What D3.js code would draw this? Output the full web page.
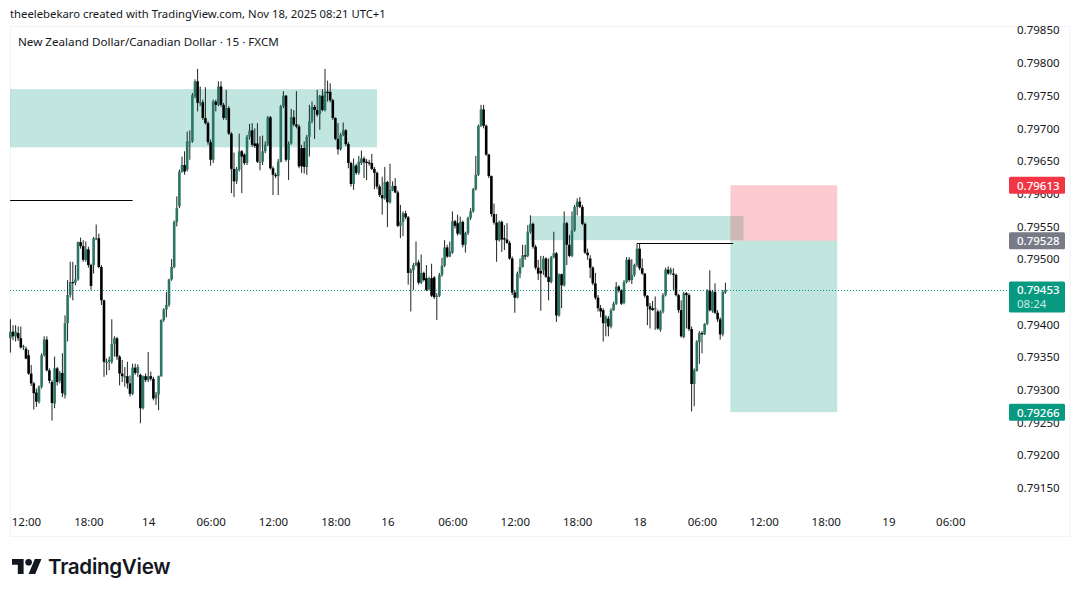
<!DOCTYPE html>
<html>
<head>
<meta charset="utf-8">
<script src="https://cdn.jsdelivr.net/npm/d3@7"></script>
<style>
html, body { margin: 0; padding: 0; background: #fff; }
svg { display: block; }
text { font-family: "Noto Sans", sans-serif; fill: #131722; }
</style>
</head>
<body>
<svg id="chart" width="1080" height="597"></svg>
<script>
// prices are in points, 1 point = 0.00001
const opens = [79379,79389,79382,79387,79379,79365,79363,79353,79325,79310,79296,79282,79305,79353,79377,79330,79312,79279,79333,79314,79326,79292,79402,79445,79465,79464,79469,79526,79520,79499,79515,79491,79491,79532,79532,79488,79437,79343,79343,79343,79370,79379,79351,79325,79321,79321,79310,79294,79334,79326,79323,79272,79321,79315,79321,79317,79287,79293,79321,79407,79423,79430,79469,79488,79557,79581,79634,79644,79637,79680,79680,79749,79772,79739,79740,79716,79708,79679,79652,79741,79736,79764,79736,79716,79731,79692,79638,79619,79637,79665,79660,79647,79687,79697,79677,79677,79649,79649,79665,79675,79717,79639,79629,79627,79649,79734,79750,79652,79677,79717,79706,79703,79670,79670,79641,79687,79711,79733,79728,79722,79750,79728,79756,79756,79743,79716,79684,79668,79690,79697,79676,79647,79615,79643,79632,79647,79654,79649,79648,79647,79638,79632,79611,79598,79593,79618,79587,79605,79612,79602,79551,79557,79570,79564,79479,79483,79491,79495,79464,79479,79471,79454,79471,79472,79443,79444,79476,79490,79518,79504,79510,79558,79555,79539,79557,79522,79540,79563,79573,79607,79629,79704,79729,79704,79660,79627,79569,79556,79529,79557,79532,79530,79525,79501,79449,79441,79478,79488,79506,79505,79542,79554,79519,79487,79482,79483,79501,79473,79465,79503,79509,79414,79477,79460,79555,79522,79505,79544,79580,79588,79580,79554,79510,79501,79487,79463,79441,79425,79422,79402,79409,79397,79422,79432,79458,79452,79433,79465,79499,79468,79476,79491,79516,79486,79478,79444,79428,79425,79423,79420,79392,79420,79445,79484,79479,79478,79476,79445,79422,79381,79448,79445,79393,79309,79329,79373,79387,79385,79401,79452,79421,79450,79418,79408,79385,79449];
const highs = [79408,79399,79399,79397,79397,79369,79366,79361,79338,79312,79302,79307,79356,79382,79382,79333,79315,79351,79335,79329,79356,79414,79468,79496,79496,79491,79527,79533,79529,79527,79519,79493,79534,79553,79539,79491,79438,79348,79351,79408,79382,79381,79353,79346,79335,79343,79322,79340,79340,79339,79325,79322,79325,79358,79328,79320,79297,79322,79408,79425,79450,79470,79500,79559,79596,79637,79657,79665,79695,79697,79754,79775,79791,79764,79744,79763,79711,79683,79744,79744,79772,79772,79739,79759,79734,79694,79663,79641,79692,79667,79662,79690,79707,79708,79700,79708,79688,79689,79680,79719,79719,79642,79632,79653,79736,79757,79751,79680,79730,79728,79757,79706,79675,79680,79690,79736,79741,79736,79759,79751,79760,79791,79773,79769,79745,79717,79708,79693,79709,79699,79679,79649,79654,79646,79658,79666,79657,79653,79652,79661,79641,79634,79614,79626,79641,79620,79646,79619,79624,79605,79583,79573,79574,79566,79486,79494,79527,79499,79507,79481,79491,79473,79493,79474,79448,79479,79502,79529,79522,79527,79573,79560,79568,79565,79559,79542,79565,79578,79609,79658,79706,79736,79736,79706,79661,79628,79585,79569,79559,79559,79552,79555,79528,79504,79453,79481,79501,79522,79522,79552,79567,79556,79522,79499,79505,79505,79503,79501,79505,79542,79511,79478,79478,79573,79557,79537,79573,79583,79593,79595,79583,79556,79516,79506,79489,79479,79445,79430,79425,79414,79413,79425,79435,79465,79460,79454,79468,79503,79503,79500,79493,79524,79524,79501,79479,79445,79433,79436,79443,79423,79422,79448,79487,79489,79487,79486,79478,79447,79437,79450,79450,79448,79397,79333,79376,79390,79390,79402,79454,79483,79453,79463,79422,79411,79453,79464];
const lows = [79357,79376,79374,79375,79363,79361,79347,79323,79306,79270,79274,79279,79302,79351,79328,79310,79253,79272,79307,79310,79289,79287,79374,79441,79437,79460,79467,79516,79496,79496,79487,79453,79478,79529,79486,79430,79320,79323,79330,79340,79351,79346,79307,79312,79305,79302,79290,79292,79323,79320,79249,79270,79312,79312,79314,79284,79277,79269,79320,79404,79411,79427,79467,79486,79550,79578,79632,79629,79634,79652,79678,79746,79726,79734,79713,79706,79675,79643,79647,79726,79734,79733,79713,79713,79690,79601,79595,79615,79634,79601,79644,79644,79683,79672,79670,79647,79636,79644,79662,79673,79637,79598,79624,79598,79648,79731,79649,79621,79675,79703,79700,79639,79632,79631,79629,79657,79708,79684,79718,79698,79726,79726,79741,79740,79713,79682,79660,79666,79688,79673,79639,79611,79606,79629,79629,79644,79624,79621,79643,79636,79607,79607,79595,79568,79591,79549,79585,79604,79601,79549,79532,79535,79561,79461,79420,79453,79489,79461,79462,79466,79451,79452,79442,79439,79407,79442,79473,79488,79502,79503,79508,79547,79536,79537,79518,79510,79537,79560,79571,79605,79627,79702,79700,79658,79624,79565,79553,79496,79527,79511,79514,79523,79499,79445,79418,79440,79471,79487,79499,79503,79539,79516,79484,79468,79421,79476,79471,79437,79463,79501,79404,79412,79425,79458,79491,79503,79503,79542,79567,79578,79552,79508,79499,79471,79460,79438,79420,79411,79374,79382,79382,79394,79421,79430,79449,79430,79431,79463,79465,79462,79473,79488,79483,79476,79441,79399,79394,79421,79392,79392,79389,79417,79443,79476,79476,79453,79443,79418,79380,79379,79394,79390,79267,79275,79328,79340,79356,79384,79399,79420,79418,79416,79404,79377,79382,79447];
const closes = [79389,79382,79389,79379,79365,79367,79348,79325,79310,79295,79282,79305,79353,79377,79330,79314,79280,79333,79312,79326,79295,79402,79445,79465,79464,79469,79526,79520,79499,79515,79491,79459,79532,79532,79488,79437,79343,79343,79346,79370,79379,79351,79325,79321,79321,79310,79294,79334,79326,79335,79272,79321,79315,79321,79317,79287,79293,79321,79407,79423,79430,79469,79488,79557,79578,79634,79644,79634,79680,79680,79751,79772,79739,79740,79716,79708,79679,79652,79741,79736,79764,79736,79716,79731,79692,79638,79619,79638,79665,79657,79647,79687,79697,79675,79673,79649,79649,79665,79675,79717,79639,79629,79627,79649,79734,79750,79652,79677,79717,79706,79703,79642,79642,79641,79687,79711,79733,79728,79721,79750,79728,79756,79754,79743,79716,79684,79668,79690,79697,79676,79647,79615,79643,79632,79649,79654,79648,79647,79647,79638,79632,79611,79598,79593,79618,79587,79606,79612,79602,79551,79557,79570,79564,79479,79483,79491,79495,79464,79479,79468,79453,79471,79444,79442,79444,79476,79490,79518,79504,79512,79558,79551,79539,79557,79522,79540,79563,79573,79607,79629,79704,79729,79704,79660,79627,79569,79556,79529,79557,79530,79530,79525,79501,79449,79441,79478,79488,79506,79504,79542,79554,79519,79487,79478,79478,79501,79473,79465,79503,79509,79414,79477,79460,79555,79522,79505,79544,79580,79588,79580,79554,79510,79506,79487,79463,79441,79425,79420,79402,79412,79397,79422,79432,79458,79452,79432,79465,79499,79468,79476,79491,79516,79486,79478,79444,79428,79423,79422,79425,79394,79420,79445,79484,79478,79484,79476,79445,79422,79382,79448,79445,79393,79309,79330,79374,79387,79385,79401,79452,79422,79450,79418,79408,79385,79450,79453];

const priceTicks = [79150,79200,79250,79300,79350,79400,79500,79550,79600,79650,79700,79750,79800,79850];
const timeTicks = [6,30,53,77,101,125,145,170,194,218,242,266,289.7,313.6,337.7,361.5];
const timeLabels = ["12:00","18:00","14","06:00","12:00","18:00","16","06:00","12:00","18:00","18","06:00","12:00","18:00","19","06:00"];

const lastPrice = 79453;
const entryPrice = 79528, stopPrice = 79613, targetPrice = 79266;
const countdown = "08:24";

const svg = d3.select("#chart");
const x = d3.scaleLinear().domain([0, 275]).range([10.4, 725.4]);
const y = d3.scaleLinear().domain([79800, 79150]).range([63, 488]);
const fmt = v => (v / 100000).toFixed(5);

svg.append("text").attr("x", 10).attr("y", 18).attr("font-size", 11.3)
    .text("theelebekaro created with TradingView.com, Nov 18, 2025 08:21 UTC+1");

svg.append("rect").attr("x", 10.5).attr("y", 26.5).attr("width", 1059.5).attr("height", 510)
    .attr("fill", "#fff").attr("stroke", "#f0f3fa");

svg.append("text").attr("x", 18).attr("y", 46).attr("font-size", 11.65).attr("fill", "#222")
    .text("New Zealand Dollar/Canadian Dollar · 15 · FXCM");

const zones = [
    {i0: -0.1, i1: 141, hi: 79760, lo: 79671},
    {i0: 200, i1: 282, hi: 79566, lo: 79529}
];
svg.append("g").selectAll("rect").data(zones).enter().append("rect")
    .attr("x", d => x(d.i0)).attr("width", d => x(d.i1) - x(d.i0))
    .attr("y", d => y(d.hi)).attr("height", d => y(d.lo) - y(d.hi))
    .attr("fill", "#089981").attr("fill-opacity", 0.25);

// long position box
const posStart = 276.9, posEnd = 318;
svg.append("rect").attr("x", x(posStart)).attr("width", x(posEnd) - x(posStart))
    .attr("y", y(stopPrice)).attr("height", y(entryPrice) - y(stopPrice))
    .attr("fill", "#f23645").attr("fill-opacity", 0.26);
svg.append("rect").attr("x", x(posStart)).attr("width", x(posEnd) - x(posStart))
    .attr("y", y(entryPrice)).attr("height", y(targetPrice) - y(entryPrice))
    .attr("fill", "#089981").attr("fill-opacity", 0.25);

const hlines = [{i0: -0.1, i1: 47, p: 79590}, {i0: 241, i1: 278, p: 79524}];
svg.append("g").selectAll("line").data(hlines).enter().append("line")
    .attr("x1", d => x(d.i0)).attr("x2", d => x(d.i1))
    .attr("y1", d => Math.round(y(d.p)) + 0.5).attr("y2", d => Math.round(y(d.p)) + 0.5)
    .attr("stroke", "#000");

svg.append("line").attr("x1", 10).attr("x2", 1009)
    .attr("y1", Math.round(y(lastPrice)) + 0.5).attr("y2", Math.round(y(lastPrice)) + 0.5)
    .attr("stroke", "#089981").attr("stroke-dasharray", "1 2");

// candles
const bars = svg.append("g");
bars.selectAll("line").data(closes).enter().append("line")
    .attr("x1", (d, i) => x(i)).attr("x2", (d, i) => x(i))
    .attr("y1", (d, i) => y(highs[i])).attr("y2", (d, i) => y(lows[i]))
    .attr("stroke", "#1c2422").attr("stroke-width", 1);
bars.selectAll("rect").data(closes).enter().append("rect")
    .attr("x", (d, i) => x(i) - 1.3).attr("width", 2.6)
    .attr("y", (d, i) => y(Math.max(opens[i], d)))
    .attr("height", (d, i) => Math.max(1.2, Math.abs(y(opens[i]) - y(d))))
    .attr("fill", (d, i) => d >= opens[i] ? "#2a7566" : "#000");

// price axis
const yAxis = d3.axisRight(y).tickValues(priceTicks).tickFormat(fmt).tickSize(0).tickPadding(0);
const yg = svg.append("g").attr("transform", "translate(1017,0)").call(yAxis);
yg.select(".domain").remove();
yg.selectAll("text").attr("font-size", 11.5).style("font-family", '"Noto Sans", sans-serif').attr("fill", "#222");

// time axis
const xAxis = d3.axisBottom(x).tickValues(timeTicks).tickFormat((d, i) => timeLabels[i]).tickSize(0).tickPadding(0);
const xg = svg.append("g").attr("transform", "translate(0,518)").call(xAxis);
xg.select(".domain").remove();
xg.selectAll("text").attr("font-size", 11.5).style("font-family", '"Noto Sans", sans-serif').attr("fill", "#222");

// price labels
const tags = [
    {p: stopPrice, color: "#f23645"},
    {p: entryPrice, color: "#787b86"},
    {p: targetPrice, color: "#089981"}
];
const tag = svg.append("g").selectAll("g").data(tags).enter().append("g")
    .attr("transform", d => `translate(1009,${y(d.p) - 8.5})`);
tag.append("rect").attr("width", 56).attr("height", 17).attr("rx", 1.5).attr("fill", d => d.color);
tag.append("text").attr("x", 8).attr("y", 13).attr("font-size", 11.5).attr("font-weight", 500)
    .style("fill", "#fff").text(d => fmt(d.p));

const lastTag = svg.append("g").attr("transform", `translate(1009,${y(lastPrice) - 8.5})`);
lastTag.append("rect").attr("width", 56).attr("height", 31).attr("rx", 1.5).attr("fill", "#089981");
lastTag.append("text").attr("x", 8).attr("y", 13).attr("font-size", 11.5).attr("font-weight", 500)
    .style("fill", "#fff").text(fmt(lastPrice));
lastTag.append("text").attr("x", 8).attr("y", 27).attr("font-size", 11.5)
    .style("fill", "#c8ebe4").text(countdown);

// logo
const logo = svg.append("g").attr("transform", "translate(12,555.7) scale(0.83)").attr("fill", "#131722");
logo.append("path").attr("d", "M14 22H7V11H0V4h14v18zM28 22h-8l7.5-18h8L28 22z");
logo.append("circle").attr("cx", 20).attr("cy", 8).attr("r", 4);
svg.append("text").attr("x", 48).attr("y", 574).attr("font-size", 20.6)
    .attr("font-weight", 600).style("font-family", "Inter, sans-serif").attr("letter-spacing", -0.3)
    .text("TradingView");
</script>
</body>
</html>
